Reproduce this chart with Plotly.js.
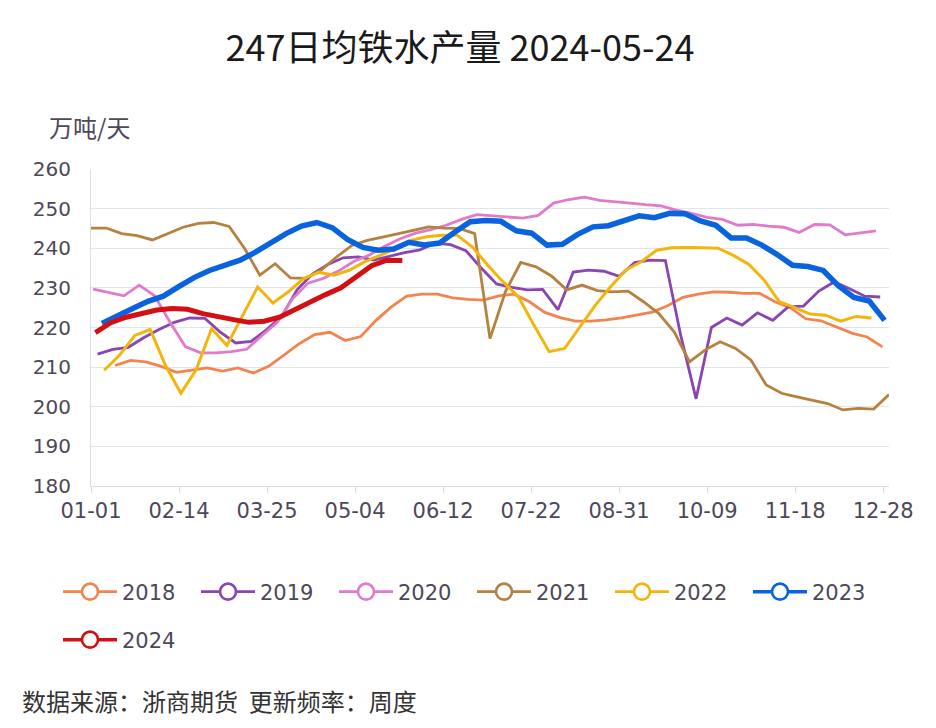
<!DOCTYPE html>
<html><head><meta charset="utf-8">
<script src="https://cdn.plot.ly/plotly-3.0.1.min.js"></script>
<style>html,body{margin:0;padding:0;background:#fff}#chart{width:936px;height:728px}</style>
</head><body><div id="chart"></div>
<script>
const years = ['2018','2019','2020','2021','2022','2023','2024'];
const tickLabels = ['01-01','02-14','03-25','05-04','06-12','07-22','08-31','10-09','11-18','12-28'];
// day index (from 01-01) of each year's first weekly reading
const firstDay = [11, 3, 1, 0, 6, 5, 2];

const v2018 = [210.4,211.7,211.3,210.2,208.7,209.3,209.8,209,209.8,208.5,210.2,213,215.9,218.2,218.8,216.7,217.7,221.8,225.2,227.9,228.4,228.4,227.5,227.1,226.9,228,228.4,226.5,223.8,222.5,221.6,221.6,221.9,222.4,223.1,223.9,225.5,227.6,228.4,229,228.9,228.6,228.6,226.5,225,222.2,221.7,220.1,218.6,217.6,215.1];
const v2019 = [213.3,214.5,215,217.4,219.5,221.3,222.4,222.3,218.8,216.1,216.5,219.4,222.8,229.5,233.5,235.9,237.6,237.8,237,238,238.9,239.6,241.3,240.9,239.4,235,231,230.1,229.5,229.6,224.5,234,234.5,234.2,232.9,236.4,237,236.9,218,202,220,222.4,220.6,223.7,221.8,225.2,225.4,229.2,231.5,229.8,227.9,227.7];
const v2020 = [229.7,228.8,228,230.7,228,221.4,215.2,213.6,213.6,213.9,214.5,218,221.3,227.3,231.2,232.4,234.3,236.7,238.3,240.5,242.4,243.8,244.7,245.8,247.3,248.5,248.2,247.8,247.6,248.3,251.4,252.3,252.9,252.1,251.8,251.4,251,250.7,249.6,248.8,247.8,247.3,245.8,246,245.6,245.3,244,246,245.9,243.4,243.9,244.4];
const v2021 = [245.1,245.1,243.7,243.2,242.1,243.6,245.3,246.3,246.5,245.5,240,233.2,236.1,232.5,232.4,234.5,237.8,240.7,242,242.8,243.6,244.5,245.4,245.1,245,243.7,217.2,229,236.4,235.3,233,229.5,230.7,229.3,229,229.2,226.5,223.5,218.9,211.3,214.3,216.4,214.7,211.8,205.5,203.4,202.5,201.7,200.8,199.2,199.6,199.4,203.1];
const v2022 = [209.2,213,218,219.5,210.4,203.4,209.4,219.7,215.5,223,230.2,226.2,229,232.4,233.9,233.2,234.5,236.6,238.2,239.9,242,242.9,243.3,243.3,240.3,235.7,231.5,227.7,220.6,213.9,214.7,220.2,225.6,230.3,234.5,236.6,239.5,240.1,240.2,240.1,240,238.2,236,232,226.5,225,223.4,223.1,221.6,222.8,222.4];
const v2023 = [221,223,224.8,226.6,227.9,230.3,232.6,234.4,235.8,237,239,241.5,243.7,245.6,246.5,245.2,242.2,240.2,239.5,239.8,241.5,240.8,241.3,244.1,246.7,247,246.8,244.4,243.8,240.8,241,243.5,245.4,245.7,247.1,248.2,247.7,248.8,248.7,246.9,245.8,242.6,242.6,240.8,238.4,235.7,235.4,234.4,230.5,227.6,226.7,221.8];
const v2024 = [218.7,221.2,222.6,223.6,224.4,224.8,224.6,223.5,222.9,222,221.3,221.6,222.6,224.6,226.3,228.3,230,232.7,235.6,237,236.9];

const seriesValues = [v2018, v2019, v2020, v2021, v2022, v2023, v2024];
const colors = ['#F4834E', '#8A45B0', '#E07ACD', '#B5813E', '#F2B50C', '#0A63DE', '#D20F12'];
const widths = [2.8, 2.8, 2.8, 2.8, 3, 5.5, 5];

const FONT = '"Noto Sans CJK SC", "Noto Sans", sans-serif';
const NUMFONT = '"DejaVu Sans", "Noto Sans CJK SC", sans-serif';
const txt = '#4d4858';

const traces = [];
seriesValues.forEach((vals, k) => {
  traces.push({
    type: 'scatter', mode: 'lines', name: years[k],
    x: vals.map((_, i) => firstDay[k] + 7 * i), y: vals,
    line: {color: colors[k], width: widths[k], shape: 'linear'},
    showlegend: false, hoverinfo: 'x+y'
  });
});
// legend entries
seriesValues.forEach((vals, k) => {
  traces.push({
    type: 'scatter', mode: 'lines+markers', name: years[k],
    x: [null], y: [null],
    line: {color: colors[k], width: k >= 5 ? 3.5 : 2.6},
    marker: {symbol: 'circle', size: 16, color: '#ffffff', line: {color: colors[k], width: 2.6}},
    legend: k === 6 ? 'legend2' : 'legend', showlegend: true
  });
});

const W = 936, H = 728, L = 91, R = 47, T = 169, B = 242;
const pw = W - L - R, ph = H - T - B;
const px = x => (x - L) / pw;
const py = y => (H - B - y) / ph;

const legendCommon = {
  orientation: 'h', xanchor: 'left', yanchor: 'middle',
  font: {family: NUMFONT, size: 21, color: txt},
  entrywidth: 69, entrywidthmode: 'pixels', itemwidth: 54,
  bgcolor: 'rgba(0,0,0,0)', itemclick: false
};

const layout = {
  width: W, height: H,
  margin: {l: L, r: R, t: T, b: B},
  paper_bgcolor: '#ffffff', plot_bgcolor: '#ffffff',
  font: {family: FONT, color: txt},
  title: {text: '247日均铁水产量 2024-05-24', x: 460 / W, xref: 'container', y: 1 - 48 / H, yref: 'container', yanchor: 'middle',
          font: {family: FONT, size: 36, color: '#1a1a1a'}},
  xaxis: {
    range: [0, 364], tickvals: tickLabels.map((_, i) => i * 40.15), ticktext: tickLabels,
    showgrid: false, zeroline: false, showline: true, linecolor: '#d9dde8', linewidth: 1,
    ticks: 'outside', ticklen: 6, tickcolor: '#d9dde8', tickwidth: 1,
    tickfont: {family: NUMFONT, size: 21, color: txt}, ticklabelstandoff: 0, fixedrange: true
  },
  yaxis: {
    range: [180, 260], dtick: 10, tick0: 180,
    showgrid: true, gridcolor: '#e0e4ee', gridwidth: 1, zeroline: false,
    showline: true, linecolor: '#d9dde8', linewidth: 1, ticks: '',
    tickfont: {family: NUMFONT, size: 20, color: txt}, ticklabelstandoff: 15, fixedrange: true
  },
  legend: Object.assign({}, legendCommon, {x: px(58), y: py(592)}),
  legend2: Object.assign({}, legendCommon, {x: px(58), y: py(640)}),
  annotations: [
    {text: '万吨/天', xref: 'paper', yref: 'paper', x: px(47), y: py(127), xanchor: 'left', yanchor: 'middle',
     showarrow: false, font: {family: FONT, size: 24, color: txt}},
    {text: '数据来源：浙商期货  更新频率：周度', xref: 'paper', yref: 'paper', x: px(20), y: py(700), xanchor: 'left', yanchor: 'middle',
     showarrow: false, font: {family: FONT, size: 24, color: '#333333'}}
  ],
  showlegend: true
};

Plotly.newPlot('chart', traces, layout, {displayModeBar: false, staticPlot: true});
</script>
</body></html>
